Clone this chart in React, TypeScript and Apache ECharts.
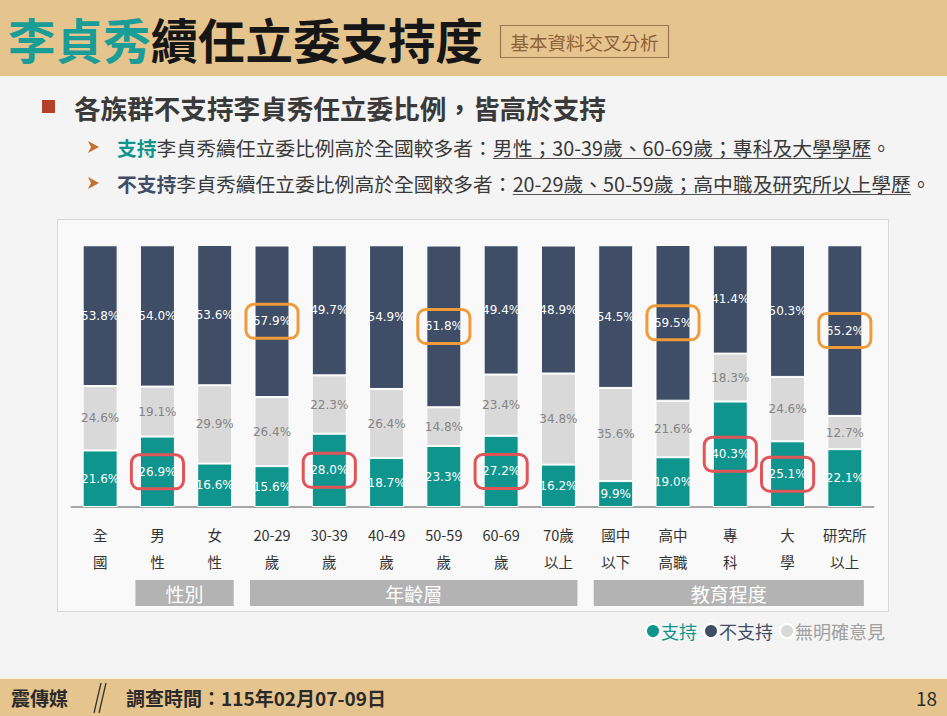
import React, { useEffect, useRef } from "react";
import * as echarts from "echarts";

const categories = ["全\n國", "男\n性", "女\n性", "20-29\n歲", "30-39\n歲", "40-49\n歲", "50-59\n歲", "60-69\n歲", "70歲\n以上", "國中\n以下", "高中\n高職", "專\n科", "大\n學", "研究所\n以上"];
const support = [21.6, 26.9, 16.6, 15.6, 28.0, 18.7, 23.3, 27.2, 16.2, 9.9, 19.0, 40.3, 25.1, 22.1];
const noOpinion = [24.6, 19.1, 29.9, 26.4, 22.3, 26.4, 14.8, 23.4, 34.8, 35.6, 21.6, 18.3, 24.6, 12.7];
const notSupport = [53.8, 54.0, 53.6, 57.9, 49.7, 54.9, 61.8, 49.4, 48.9, 54.5, 59.5, 41.4, 50.3, 65.2];
const supportHighlight = [1, 4, 7, 11, 12];
const notSupportHighlight = [3, 6, 10, 13];
const groups = [
  { name: "性別", from: 1, to: 2 },
  { name: "年齡層", from: 3, to: 8 },
  { name: "教育程度", from: 9, to: 13 },
];
const seriesNames = ["支持", "不支持", "無明確意見"];

const TEAL = "#0F958D";
const NAVY = "#3F4E66";
const GRAY = "#D9D9D9";
const TAN = "#E6C48E";
const FONT = "'Noto Sans CJK TC', 'Noto Sans CJK SC', sans-serif";

const W = 947;
const H = 716;
const GRID = { left: 71.5, top: 245, width: 802, height: 262 };

export default function App() {
  const ref = useRef<HTMLDivElement>(null);
  useEffect(() => {
    if (!ref.current) return;
    const chart = echarts.init(ref.current, undefined, { renderer: "svg", width: W, height: H });
    const canvas = document.createElement("canvas");
    const ctx = canvas.getContext("2d")!;
    const measure = (t: string, size: number, weight: string) => {
      ctx.font = `${weight} ${size}px "Noto Sans CJK TC"`;
      return ctx.measureText(t).width;
    };

    const txt = (text: string, x: number, y: number, o: any = {}) => ({
      type: "text",
      x,
      y,
      silent: true,
      style: {
        text,
        fill: o.fill || "#333",
        fontSize: o.size || 14,
        fontWeight: o.weight || "normal",
        fontFamily: FONT,
        textAlign: o.align || "left",
        align: o.align || "left",
        textVerticalAlign: "middle",
        verticalAlign: "middle",
      },
    });

    const graphics: any[] = [];
    graphics.push({ type: "rect", shape: { x: 0, y: 0, width: W, height: 76 }, style: { fill: TAN }, silent: true, z: -10 });
    graphics.push({ type: "rect", shape: { x: 0, y: 679, width: W, height: 37 }, style: { fill: TAN }, silent: true, z: -10 });
    graphics.push({ type: "rect", shape: { x: 0, y: 677, width: W, height: 2 }, style: { fill: "#FBF3E6" }, silent: true, z: -10 });
    graphics.push({ type: "rect", shape: { x: 57.5, y: 219.5, width: 831, height: 392 }, style: { fill: "#F9F9F9", stroke: "#D8D8D8", lineWidth: 1 }, silent: true, z: -10 });

    // title
    const tSize = 47.5;
    const w1 = measure("李貞秀", tSize, "bold");
    graphics.push(txt("李貞秀", 8, 38, { fill: "#1A9D96", size: tSize, weight: "bold" }));
    graphics.push(txt("續任立委支持度", 8 + w1, 38, { fill: "#161616", size: tSize, weight: "bold" }));
    graphics.push({ type: "rect", shape: { x: 500.5, y: 25.5, width: 168, height: 32 }, style: { fill: "none", stroke: "#9C7650", lineWidth: 1.2 }, silent: true });
    graphics.push(txt("基本資料交叉分析", 584.5, 42, { fill: "#8E6238", size: 18.5, align: "center" }));

    // heading
    graphics.push({ type: "rect", shape: { x: 42, y: 100, width: 13, height: 13 }, style: { fill: "#B2402A" }, silent: true });
    graphics.push(txt("各族群不支持李貞秀任立委比例，皆高於支持", 74, 107, { fill: "#3A3A3A", size: 26.6, weight: "bold" }));

    const lines = [
      {
        y: 147,
        segs: [
          { t: "支持", fill: TEAL, weight: "bold" },
          { t: "李貞秀續任立委比例高於全國較多者：", fill: "#3A3A3A" },
          { t: "男性；30-39歲、60-69歲；專科及大學學歷", fill: "#3A3A3A", underline: true },
          { t: "。", fill: "#3A3A3A" },
        ],
      },
      {
        y: 183,
        segs: [
          { t: "不支持", fill: NAVY, weight: "bold" },
          { t: "李貞秀續任立委比例高於全國較多者：", fill: "#3A3A3A" },
          { t: "20-29歲、50-59歲；高中職及研究所以上學歷", fill: "#3A3A3A", underline: true },
          { t: "。", fill: "#3A3A3A" },
        ],
      },
    ];
    const subSize = 19.8;
    lines.forEach((ln) => {
      graphics.push({
        type: "polygon",
        shape: { points: [[88, ln.y - 6], [99, ln.y], [88, ln.y + 6], [91, ln.y]] },
        style: { fill: "#C4702E" },
        silent: true,
      });
      let x = 117;
      ln.segs.forEach((s: any) => {
        const wt = s.weight || "normal";
        const w = measure(s.t, subSize, wt);
        graphics.push(txt(s.t, x, ln.y, { fill: s.fill, size: subSize, weight: wt }));
        if (s.underline) {
          graphics.push({ type: "line", shape: { x1: x, y1: ln.y + 11.5, x2: x + w, y2: ln.y + 11.5 }, style: { stroke: "#555", lineWidth: 1 }, silent: true });
        }
        x += w;
      });
    });

    // group labels
    const catW = GRID.width / categories.length;
    const center = (i: number) => GRID.left + catW * (i + 0.5);
    groups.forEach((g) => {
      const x1 = center(g.from) - 22;
      const x2 = center(g.to) + 19;
      graphics.push({ type: "rect", shape: { x: x1, y: 580, width: x2 - x1, height: 26 }, style: { fill: "#B3B3B3" }, silent: true });
      graphics.push(txt(g.name, (x1 + x2) / 2, 593, { fill: "#FFFFFF", size: 19, align: "center" }));
    });

    // footer
    graphics.push(txt("震傳媒", 11, 697, { fill: "#2A2A2A", size: 19, weight: "bold" }));
    graphics.push({ type: "line", shape: { x1: 101, y1: 683, x2: 94, y2: 713 }, style: { stroke: "#333", lineWidth: 1.3 }, silent: true });
    graphics.push({ type: "line", shape: { x1: 106, y1: 683, x2: 99, y2: 713 }, style: { stroke: "#333", lineWidth: 1.3 }, silent: true });
    graphics.push(txt("調查時間：115年02月07-09日", 126, 697, { fill: "#2A2A2A", size: 19, weight: "bold" }));
    graphics.push(txt("18", 937, 697, { fill: "#2A2A2A", size: 19, align: "right" }));

    const hl = (color: string) => ({
      borderColor: color,
      borderWidth: 3,
      borderRadius: 8,
      padding: [11, 7],
    });
    const fmt = (p: any) => Number(p.value).toFixed(1) + "%";
    const labelBase = { show: true, position: "inside", fontSize: 12, fontFamily: "'DejaVu Sans', sans-serif", formatter: fmt };

    chart.setOption({
      animation: false,
      backgroundColor: "#F4F4F4",
      grid: { ...GRID, containLabel: false },
      legend: {
        right: 57,
        top: 617,
        icon: "circle",
        itemWidth: 14,
        itemHeight: 14,
        itemGap: 6,
        textStyle: { fontSize: 18, fontFamily: FONT, padding: [0, 0, 0, -4] },
        data: [
          { name: seriesNames[0], textStyle: { color: TEAL } },
          { name: seriesNames[1], textStyle: { color: NAVY } },
          { name: seriesNames[2], textStyle: { color: "#A0A0A0" } },
        ],
        selectedMode: false,
      },
      xAxis: {
        type: "category",
        data: categories,
        axisLine: { lineStyle: { color: "#A6A6A6", width: 2 } },
        axisTick: { show: false },
        axisLabel: { color: "#333", fontSize: 14.5, fontFamily: FONT, lineHeight: 27, margin: 14, interval: 0 },
      },
      yAxis: { type: "value", min: 0, max: 100.1, show: false, splitLine: { show: false } },
      series: [
        {
          name: seriesNames[0],
          type: "bar",
          stack: "s",
          barWidth: 35,
          itemStyle: { color: TEAL, borderColor: "#fff", borderWidth: 1 },
          label: { ...labelBase, color: "#fff" },
          data: support.map((v, i) => (supportHighlight.includes(i) ? { value: v, label: hl("#E0555A") } : v)),
        },
        {
          name: seriesNames[2],
          type: "bar",
          stack: "s",
          barWidth: 35,
          itemStyle: { color: GRAY, borderColor: "#fff", borderWidth: 1 },
          label: { ...labelBase, color: "#858585" },
          data: noOpinion,
        },
        {
          name: seriesNames[1],
          type: "bar",
          stack: "s",
          barWidth: 35,
          itemStyle: { color: NAVY, borderColor: "#fff", borderWidth: 1 },
          label: { ...labelBase, color: "#fff" },
          data: notSupport.map((v, i) => (notSupportHighlight.includes(i) ? { value: v, label: hl("#F09B3A") } : v)),
        },
      ],
      graphic: graphics,
    });
    return () => chart.dispose();
  }, []);
  return <div ref={ref} style={{ position: "fixed", left: 0, top: 0, width: W, height: H }} />;
}
